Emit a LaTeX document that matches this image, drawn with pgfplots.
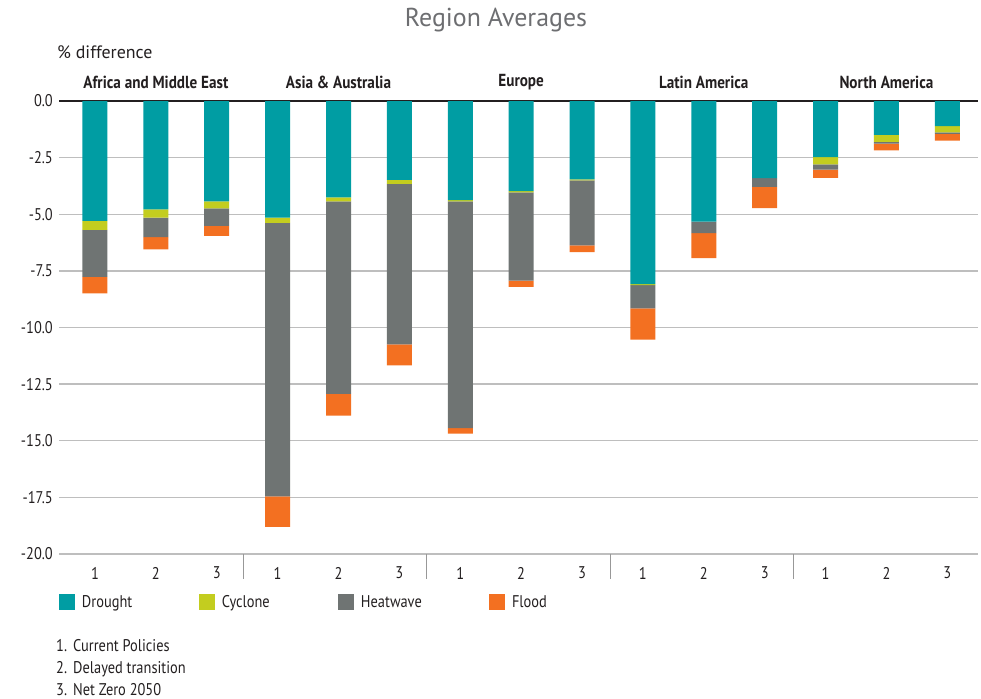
\documentclass[border=0pt]{standalone}
\usepackage{pgfplots}
\pgfplotsset{compat=1.18}
\usepackage{pgfplotstable}
\usepackage{fontspec}
\setmainfont{PT Sans}[FakeStretch=0.85]
\newfontfamily\titlefont{PT Sans}
\newfontfamily\groupfont{PT Sans}[FakeStretch=0.87]
\definecolor{drought}{HTML}{009DA3}
\definecolor{cyclone}{HTML}{C3CD1F}
\definecolor{heatwave}{HTML}{6F7473}
\definecolor{flood}{HTML}{F37021}
\definecolor{txt}{HTML}{231F20}
\definecolor{titlegrey}{HTML}{6D6E71}
\definecolor{gridgrey}{HTML}{BEBEBE}

\pgfplotstableread{
x D C H F
0  -5.29 -0.40 -2.08 -0.72
1  -4.79 -0.36 -0.86 -0.54
2  -4.43 -0.31 -0.77 -0.45
3  -5.15 -0.23 -12.08 -1.34
4  -4.25 -0.18 -8.50 -0.96
5  -3.48 -0.18 -7.08 -0.93
6  -4.38 -0.05 -10.01 -0.25
7  -3.98 -0.05 -3.90 -0.28
8  -3.46 -0.04 -2.87 -0.30
9  -8.08 -0.05 -1.03 -1.38
10 -5.33 0.00 -0.50 -1.11
11 -3.40 0.00 -0.39 -0.94
12 -2.48 -0.32 -0.23 -0.36
13 -1.49 -0.31 -0.08 -0.30
14 -1.11 -0.28 -0.06 -0.30
}\datatable

\begin{document}
\begin{tikzpicture}
\useasboundingbox (0bp,0bp) rectangle (981bp,-699bp);
\begin{axis}[
  at={(59bp,-554bp)}, anchor=south west,
  scale only axis, width=919bp, height=453bp,
  ybar stacked, bar width=25bp,
  xmin=-0.591, xmax=14.504, ymin=-20, ymax=0,
  clip=false,
  axis line style={draw=none},
  major tick length=0pt,
  ytick={-20,-17.5,...,0},
  ymajorgrids, grid style={gridgrey, line width=1.3bp},
  xtick={0,...,14},
  xticklabels={1,2,3,1,2,3,1,2,3,1,2,3,1,2,3},
  tick label style={font=\fontsize{17}{20}\selectfont, text=txt},
  yticklabel style={anchor=east, inner sep=0pt, xshift=-6bp,
    /pgf/number format/.cd, fixed, fixed zerofill, precision=1, assume math mode=true},
  xticklabel style={anchor=center, inner sep=0pt, yshift=-19bp},
  legend style={at={(0,-0.106)}, anchor=west, draw=none, fill=none,
    legend columns=4, inner sep=0pt, outer sep=0pt,
    font=\fontsize{17}{20}\selectfont, text=txt,
    /tikz/every odd column/.append style={column sep=7bp},
    nodes={inner sep=0pt}},
  legend image code/.code={\draw[#1,draw=none] (0bp,-8bp) rectangle (16bp,8bp);},
]
\addplot[fill=drought, draw=none] table[x=x,y=D]{\datatable};
\addlegendentry{\makebox[117bp][l]{Drought}}
\addplot[fill=cyclone, draw=none] table[x=x,y=C]{\datatable};
\addlegendentry{\makebox[116bp][l]{Cyclone}}
\addplot[fill=heatwave, draw=none] table[x=x,y=H]{\datatable};
\addlegendentry{\makebox[128bp][l]{Heatwave}}
\addplot[fill=flood, draw=none] table[x=x,y=F]{\datatable};
\addlegendentry{Flood}

\draw[txt, line width=1.4bp] (axis cs:-0.591,0) -- (axis cs:14.504,0);
\draw[gridgrey!80!black, line width=1bp] (axis cs:2.44,-20) -- ++(0bp,-25bp);
\draw[gridgrey!80!black, line width=1bp] (axis cs:5.45,-20) -- ++(0bp,-25bp);
\draw[gridgrey!80!black, line width=1bp] (axis cs:8.46,-20) -- ++(0bp,-25bp);
\draw[gridgrey!80!black, line width=1bp] (axis cs:11.48,-20) -- ++(0bp,-25bp);
\node[font={\fontsize{17.5}{20}\selectfont\groupfont\bfseries}, text=txt] at ([yshift=19bp]axis cs:1,0) {Africa and Middle East};
\node[font={\fontsize{17.5}{20}\selectfont\groupfont\bfseries}, text=txt] at ([yshift=19bp]axis cs:4,0) {Asia \& Australia};
\node[font={\fontsize{17.5}{20}\selectfont\groupfont\bfseries}, text=txt] at ([yshift=19bp]axis cs:7,0) {Europe};
\node[font={\fontsize{17.5}{20}\selectfont\groupfont\bfseries}, text=txt] at ([yshift=19bp]axis cs:10,0) {Latin America};
\node[font={\fontsize{17.5}{20}\selectfont\groupfont\bfseries}, text=txt] at ([yshift=19bp]axis cs:13,0) {North America};
\end{axis}
\node[font={\fontsize{26}{30}\selectfont\titlefont}, text=titlegrey] at (496bp,-20bp) {Region Averages};
\node[font={\fontsize{18}{21}\selectfont\titlefont}, text=txt, anchor=west, inner sep=0pt] at (57bp,-52bp) {\% difference};
\node[font={\fontsize{17}{22.2}\selectfont}, text=txt, anchor=north west, inner sep=0pt, align=left] at (56bp,-639bp)
  {\makebox[17bp][l]{1.}Current Policies\\ \makebox[17bp][l]{2.}Delayed transition\\ \makebox[17bp][l]{3.}Net Zero 2050};
\end{tikzpicture}
\end{document}
